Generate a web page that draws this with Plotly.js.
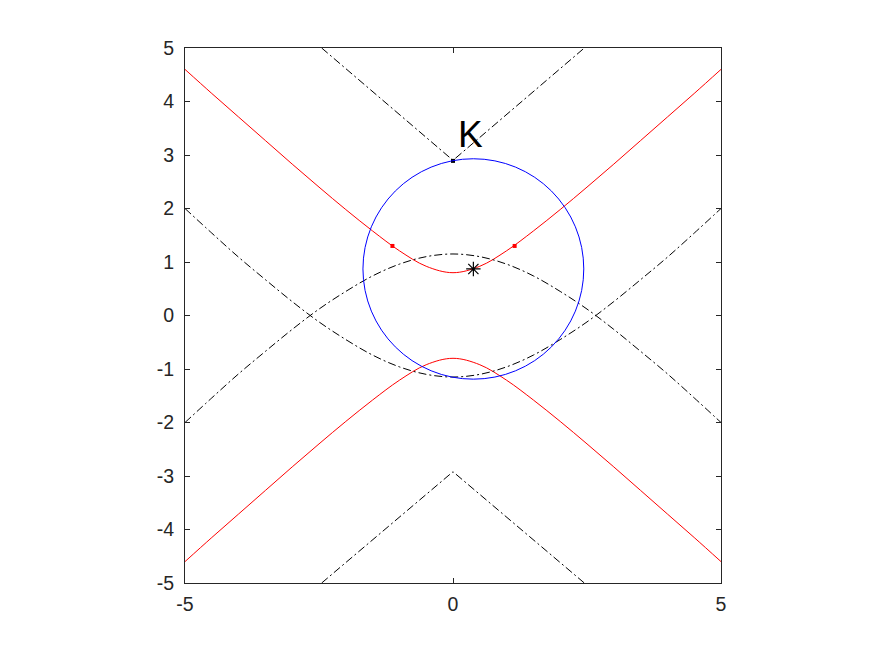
<!DOCTYPE html>
<html>
<head>
<meta charset="utf-8">
<script src="https://cdn.plot.ly/plotly-3.0.1.min.js"></script>
<style>html,body{margin:0;padding:0;background:#fff;}#chart{width:875px;height:656px;}</style>
</head>
<body>
<div id="chart"></div>
<script>
const xs = [-5,-4.5,-4,-3.5,-3,-2.5,-2,-1.5,-1,-0.5,0,0.5,1,1.5,2,2.5,3,3.5,4,4.5,5];
// red curves
const redUpper = [4.60,4.15,3.71,3.27,2.83,2.40,1.98,1.58,1.21,0.92,0.80,0.92,1.21,1.58,1.98,2.40,2.83,3.27,3.71,4.15,4.60];
const redLower = [-4.60,-4.15,-3.71,-3.27,-2.83,-2.40,-1.98,-1.58,-1.21,-0.92,-0.80,-0.92,-1.21,-1.58,-1.98,-2.40,-2.83,-3.27,-3.71,-4.15,-4.60];
// black dash-dot cap / cup curves
const capY = [-2.00,-1.54,-1.09,-0.67,-0.26,0.12,0.45,0.74,0.96,1.10,1.15,1.10,0.96,0.74,0.45,0.12,-0.26,-0.67,-1.09,-1.54,-2.00];
const cupY = [2.00,1.54,1.09,0.67,0.26,-0.12,-0.45,-0.74,-0.96,-1.10,-1.15,-1.10,-0.96,-0.74,-0.45,-0.12,0.26,0.67,1.09,1.54,2.00];
// black dash-dot V lines
const vTopX = [-2.45, 0, 2.45];
const vTopY = [5, 2.9, 5];
const vBotX = [-2.45, 0, 2.45];
const vBotY = [-5, -2.92, -5];
// blue circle
const circleCenter = [0.38, 0.87];
const circleRadius = 2.06;
// markers
const redPtsX = [-1.13, 1.15];
const redPtsY = [1.30, 1.30];
const kPtX = [0];
const kPtY = [2.89];
const starX = [0.38];
const starY = [0.87];
const kLabel = "K";
// ticks
const xTickVals = [-5, 0, 5];
const xTickText = ["-5", "0", "5"];
const yTickVals = [-5,-4,-3,-2,-1,0,1,2,3,4,5];
const yTickText = ["-5","-4","-3","-2","-1","0","1","2","3","4","5"];

const dd = "8px,3px,2px,3px";
const blk = "#000000";
const traces = [
  {x: xs, y: redUpper, mode: "lines", line: {color: "#ff0000", width: 1, shape: "spline"}},
  {x: xs, y: redLower, mode: "lines", line: {color: "#ff0000", width: 1, shape: "spline"}},
  {x: xs, y: capY, mode: "lines", line: {color: blk, width: 1, dash: dd, shape: "spline"}},
  {x: xs, y: cupY, mode: "lines", line: {color: blk, width: 1, dash: dd, shape: "spline"}},
  {x: vTopX, y: vTopY, mode: "lines", line: {color: blk, width: 1, dash: dd}},
  {x: vBotX, y: vBotY, mode: "lines", line: {color: blk, width: 1, dash: dd}},
  {x: redPtsX, y: redPtsY, mode: "markers", marker: {symbol: "square", size: 4, color: "#ff0000"}},
  {x: kPtX, y: kPtY, mode: "markers", marker: {symbol: "square", size: 4, color: blk}},
  {x: starX, y: starY, mode: "markers", marker: {symbol: "asterisk-open", size: 12, line: {color: blk, width: 1.2}, color: blk}}
];

const axisCommon = {
  range: [-5, 5], showgrid: false, zeroline: false,
  showline: true, linecolor: "#262626", linewidth: 1, mirror: "ticks",
  ticks: "inside", ticklen: 5, tickwidth: 1, tickcolor: "#262626",
  tickmode: "array",
  tickfont: {family: "Liberation Sans, Arial, sans-serif", size: 19.5, color: "#262626"}
};

const layout = {
  width: 875, height: 656,
  margin: {l: 185, r: 154, t: 48, b: 73, pad: 0},
  paper_bgcolor: "#ffffff", plot_bgcolor: "#ffffff",
  showlegend: false,
  xaxis: Object.assign({}, axisCommon, {tickvals: xTickVals, ticktext: xTickText, ticklabelstandoff: 4}),
  yaxis: Object.assign({}, axisCommon, {tickvals: yTickVals, ticktext: yTickText, ticklabelstandoff: 6}),
  shapes: [{
    type: "circle", xref: "x", yref: "y",
    x0: circleCenter[0] - circleRadius, x1: circleCenter[0] + circleRadius,
    y0: circleCenter[1] - circleRadius, y1: circleCenter[1] + circleRadius,
    line: {color: "#0000ff", width: 1}, layer: "above"
  }],
  annotations: [{
    x: 0.05, y: 3.38, xref: "x", yref: "y", text: kLabel, showarrow: false,
    xanchor: "left", yanchor: "middle",
    font: {family: "Liberation Sans, Arial, sans-serif", size: 37, color: "#000000"}
  }]
};

Plotly.newPlot("chart", traces, layout, {displayModeBar: false, staticPlot: true});
</script>
</body>
</html>
